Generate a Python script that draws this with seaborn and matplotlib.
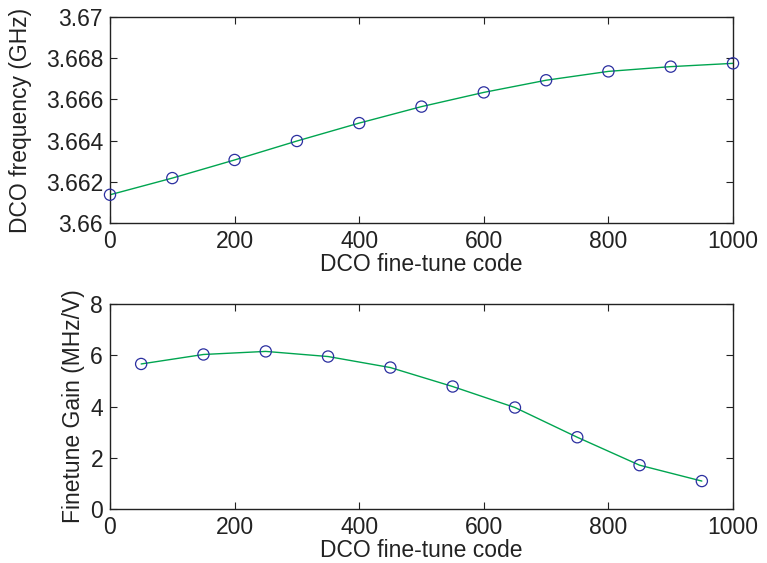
import matplotlib
matplotlib.use("Agg")
import matplotlib.pyplot as plt
import seaborn as sns
import numpy as np

code_top = [0, 100, 200, 300, 400, 500, 600, 700, 800, 900, 1000]
freq_ghz = [3.66137, 3.66218, 3.66306, 3.66398, 3.66485, 3.66565,
            3.66634, 3.66693, 3.66736, 3.66759, 3.66775]

code_bot = [50, 150, 250, 350, 450, 550, 650, 750, 850, 950]
gain_mhz_v = [5.66, 6.03, 6.15, 5.95, 5.52, 4.78, 3.96, 2.80, 1.71, 1.09]

top_yticks = [3.66, 3.662, 3.664, 3.666, 3.668, 3.67]
top_yticklabels = ["3.66", "3.662", "3.664", "3.666", "3.668", "3.67"]
xticks = [0, 200, 400, 600, 800, 1000]
bot_yticks = [0, 2, 4, 6, 8]

sns.set_theme(style="white")
plt.rcParams['font.family'] = ['Liberation Sans', 'DejaVu Sans']

LINE = "#00a550"
MARK = "#2b2fa0"
FS = 16.5

fig = plt.figure(figsize=(7.67, 5.63), dpi=100)
W, H = 767, 563
ax1 = fig.add_axes([110 / W, 1 - 223 / H, 623 / W, 206 / H])
ax2 = fig.add_axes([110 / W, 1 - 509 / H, 623 / W, 205 / H])

def style(ax):
    for s in ax.spines.values():
        s.set_color("#222222")
        s.set_linewidth(1.0)
    ax.tick_params(direction="in", length=5, width=0.8, top=True, right=True,
                   labelsize=FS, colors="#222222", pad=5,
                   bottom=True, left=True)
    ax.set_facecolor("white")

sns.lineplot(x=code_top, y=freq_ghz, ax=ax1, color=LINE, linewidth=1.0)
sns.scatterplot(x=code_top, y=freq_ghz, ax=ax1, marker="o", s=65,
                facecolors="none", edgecolor=MARK, linewidth=0.9, zorder=3,
                clip_on=False)
ax1.set_xlim(0, 1000)
ax1.set_ylim(3.66, 3.67)
ax1.set_xticks(xticks)
ax1.set_yticks(top_yticks)
ax1.set_yticklabels(top_yticklabels)
ax1.set_xlabel("DCO fine-tune code", fontsize=FS, labelpad=0, color="#222222")
ax1.set_ylabel("DCO frequency (GHz)", fontsize=FS, labelpad=10, color="#222222")
style(ax1)

sns.lineplot(x=code_bot, y=gain_mhz_v, ax=ax2, color=LINE, linewidth=1.0)
sns.scatterplot(x=code_bot, y=gain_mhz_v, ax=ax2, marker="o", s=65,
                facecolors="none", edgecolor=MARK, linewidth=0.9, zorder=3)
ax2.set_xlim(0, 1000)
ax2.set_ylim(0, 8)
ax2.set_xticks(xticks)
ax2.set_yticks(bot_yticks)
ax2.set_xlabel("DCO fine-tune code", fontsize=FS, labelpad=0, color="#222222")
ax2.set_ylabel("Finetune Gain (MHz/V)", fontsize=FS, labelpad=4, color="#222222")
style(ax2)

fig.savefig("out.png", dpi=100, facecolor="white")
